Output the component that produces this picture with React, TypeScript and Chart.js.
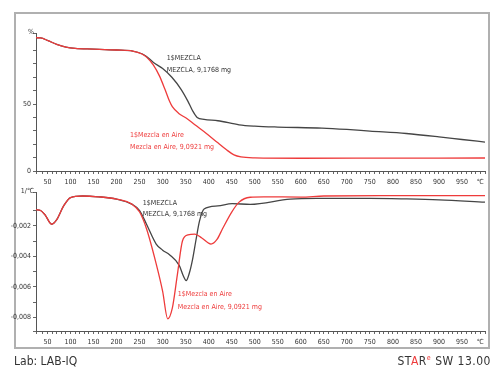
import React, { useEffect, useRef } from 'react';
import { Chart, registerables } from 'chart.js';
Chart.register(...registerables);

// ---- TGA (top) ----
const tgaMezclaTemp = [25, 35, 50, 70, 90, 110, 150, 200, 235, 255, 265, 280, 300, 320, 340, 355, 365, 375, 390, 420, 466, 500, 550, 646, 700, 750, 829, 900, 950, 1000];
const tgaMezclaPct = [99.5, 99.3, 97.5, 94.5, 92.5, 91.5, 91, 90.3, 89.5, 87.5, 85.5, 81, 76.5, 70, 61, 52, 45, 40, 38.5, 37.5, 34.5, 33.5, 32.8, 32, 31, 29.8, 28, 25.5, 23.5, 21.6];
const tgaAireTemp = [25, 35, 50, 70, 90, 110, 150, 200, 235, 255, 265, 280, 293, 305, 315, 321, 335, 351, 370, 395, 420, 438, 455, 470, 500, 600, 800, 1000];
const tgaAirePct = [99.5, 99.3, 97.5, 94.5, 92.5, 91.5, 91, 90.3, 89.5, 87.3, 85, 79, 71, 61, 52, 48, 43, 39.5, 34.5, 28, 21, 16, 12, 10.5, 9.8, 9.5, 9.6, 9.7];

// ---- DTG (bottom), values in 1/°C ----
const dtgMezclaTemp = [25, 35, 45, 59, 70, 85, 100, 126, 160, 200, 234, 250, 265, 286, 300, 315, 336, 345, 351, 358, 365, 372, 380, 390, 420, 451, 490, 577, 635, 750, 830, 900, 1000];
const dtgMezclaVal = [-0.00095, -0.001, -0.0013, -0.0019, -0.0016, -0.0007, -0.00015, -0.00005, -0.0001, -0.00025, -0.0006, -0.001, -0.0019, -0.0032, -0.0036, -0.0039, -0.0046, -0.0053, -0.0056, -0.0051, -0.0042, -0.003, -0.0017, -0.0009, -0.0007, -0.00055, -0.0006, -0.00025, -0.0002, -0.0002, -0.00024, -0.0003, -0.00045];
const dtgAireTemp = [25, 35, 45, 59, 70, 85, 100, 126, 160, 200, 234, 250, 265, 286, 300, 311, 321, 332, 343, 355, 370, 385, 405, 418, 430, 450, 466, 490, 520, 600, 650, 800, 1000];
const dtgAireVal = [-0.00095, -0.001, -0.0013, -0.0019, -0.0016, -0.0007, -0.00015, -0.00005, -0.0001, -0.00025, -0.0006, -0.0011, -0.0022, -0.0045, -0.0063, -0.0081, -0.0074, -0.0052, -0.003, -0.0026, -0.00255, -0.0028, -0.0032, -0.0029, -0.0022, -0.0011, -0.00045, -0.00013, -0.0001, -0.00012, -0.00005, -0.00003, -0.00002];

const mezclaLabels = ['1$MEZCLA', 'MEZCLA, 9,1768 mg'];
const aireLabels = ['1$Mezcla en Aire', 'Mezcla en Aire, 9,0921 mg'];

const FONT = "'Liberation Sans Narrow','DejaVu Sans Condensed','Liberation Sans',sans-serif";
const BLACK = '#454545';
const RED = '#ee3b3b';

const toPts = (xs: number[], ys: number[]) => xs.map((x, i) => ({ x, y: ys[i] }));

type Note = { x: number; y: number; lines: string[]; color: string; dy: number };

const notesPlugin = {
  id: 'notes',
  afterDatasetsDraw(chart: any, _args: any, opts: any) {
    const { ctx, scales, chartArea } = chart;
    ctx.save();
    ctx.font = `7px ${FONT}`;
    ctx.textBaseline = 'middle';
    ctx.textAlign = 'left';
    (opts.notes as Note[]).forEach((n) => {
      const px = scales.x.getPixelForValue(n.x);
      const py = scales.y.getPixelForValue(n.y);
      ctx.fillStyle = n.color;
      n.lines.forEach((t, i) => ctx.fillText(t, px, py + i * n.dy));
    });
    ctx.fillStyle = '#333';
    ctx.textAlign = 'right';
    ctx.fillText(opts.unit, chartArea.left - 2, chartArea.top - 1);
    ctx.restore();
  },
};

function makeX(labelPad: number, height: number) {
  return {
    type: 'linear',
    min: 25,
    max: 1000,
    grid: { drawOnChartArea: false, drawTicks: true, tickLength: 3, color: '#666' },
    border: { color: '#555', width: 1 },
    ticks: {
      stepSize: 10,
      autoSkip: false,
      maxRotation: 0,
      padding: labelPad,
      color: '#333',
      font: { size: 7, family: FONT },
      callback: (v: number) => (v % 50 === 0 && v < 1000 ? String(v) : v === 990 ? '℃' : ''),
    },
    afterFit: (s: any) => {
      s.height = height;
    },
  };
}

export default function App() {
  const topRef = useRef<HTMLCanvasElement>(null);
  const botRef = useRef<HTMLCanvasElement>(null);

  useEffect(() => {
    const lineDs = (data: any, color: string) => ({
      data,
      borderColor: color,
      borderWidth: 1.3,
      pointRadius: 0,
      cubicInterpolationMode: 'monotone',
      fill: false,
    });

    const top = new Chart(topRef.current!, {
      type: 'line',
      data: {
        datasets: [
          lineDs(toPts(tgaAireTemp, tgaAirePct), RED),
          lineDs(toPts(tgaMezclaTemp, tgaMezclaPct), BLACK),
        ],
      },
      options: {
        animation: false,
        responsive: false,
        maintainAspectRatio: false,
        layout: { padding: { left: 0, right: 8, top: 33, bottom: 0 } },
        plugins: {
          legend: { display: false },
          tooltip: { enabled: false },
          notes: {
            unit: '%',
            notes: [
              { x: 309, y: 84, lines: mezclaLabels, color: '#333', dy: 12 },
              { x: 229, y: 27, lines: aireLabels, color: RED, dy: 12 },
            ],
          },
        } as any,
        scales: {
          x: makeX(4, 21) as any,
          y: {
            min: 0,
            max: 103,
            grid: { drawOnChartArea: false, drawTicks: true, tickLength: 3, color: '#666' },
            border: { color: '#555', width: 1 },
            ticks: {
              stepSize: 10,
              autoSkip: false,
              padding: 2,
              color: '#333',
              font: { size: 7, family: FONT },
              callback: (v: number) => (v === 0 || v === 50 ? String(v) : ''),
            },
            afterFit: (s: any) => {
              s.width = 36;
            },
          } as any,
        },
      },
      plugins: [notesPlugin],
    } as any);

    const bot = new Chart(botRef.current!, {
      type: 'line',
      data: {
        datasets: [
          lineDs(toPts(dtgAireTemp, dtgAireVal), RED),
          lineDs(toPts(dtgMezclaTemp, dtgMezclaVal), BLACK),
        ],
      },
      options: {
        animation: false,
        responsive: false,
        maintainAspectRatio: false,
        layout: { padding: { left: 0, right: 8, top: 4, bottom: 0 } },
        plugins: {
          legend: { display: false },
          tooltip: { enabled: false },
          notes: {
            unit: '1/℃',
            notes: [
              { x: 257, y: -0.0005, lines: mezclaLabels, color: '#333', dy: 11 },
              { x: 333, y: -0.0065, lines: aireLabels, color: RED, dy: 13 },
            ],
          },
        } as any,
        scales: {
          x: makeX(4, 17) as any,
          y: {
            min: -0.0089,
            max: 0.0002,
            grid: { drawOnChartArea: false, drawTicks: true, tickLength: 3, color: '#666' },
            border: { color: '#555', width: 1 },
            ticks: {
              stepSize: 0.001,
              autoSkip: false,
              padding: 2,
              color: '#333',
              font: { size: 7, family: FONT },
              callback: (v: number) => {
                const k = Math.round(v * 1000);
                if (Math.abs(v * 1000 - k) > 1e-6) return '';
                if (k < 0 && k % 2 === 0) return '-0,00' + -k;
                return '';
              },
            },
            afterFit: (s: any) => {
              s.width = 36;
            },
          } as any,
        },
      },
      plugins: [notesPlugin],
    } as any);

    return () => {
      top.destroy();
      bot.destroy();
    };
  }, []);

  return (
    <div style={{ position: 'absolute', left: 0, top: 0, width: 493, height: 369, background: '#fff', overflow: 'hidden', fontFamily: FONT }}>
      <div style={{ position: 'absolute', left: 14, top: 12, width: 476, height: 337, border: '2px solid #b0b0b0', boxSizing: 'border-box' }} />
      <canvas ref={topRef} width={493} height={192} style={{ position: 'absolute', left: 0, top: 0 }} />
      <canvas ref={botRef} width={493} height={162} style={{ position: 'absolute', left: 0, top: 186 }} />
      <div style={{ position: 'absolute', left: 14, top: 354, fontSize: 12, color: '#333', whiteSpace: 'nowrap' }}>Lab: LAB-IQ</div>
      <div style={{ position: 'absolute', right: 2, top: 354, fontSize: 12, color: '#333', whiteSpace: 'nowrap', letterSpacing: 0.5 }}>
        ST<span style={{ color: RED }}>A</span>R<sup style={{ color: RED, fontSize: 7 }}>e</sup> SW 13.00
      </div>
    </div>
  );
}
